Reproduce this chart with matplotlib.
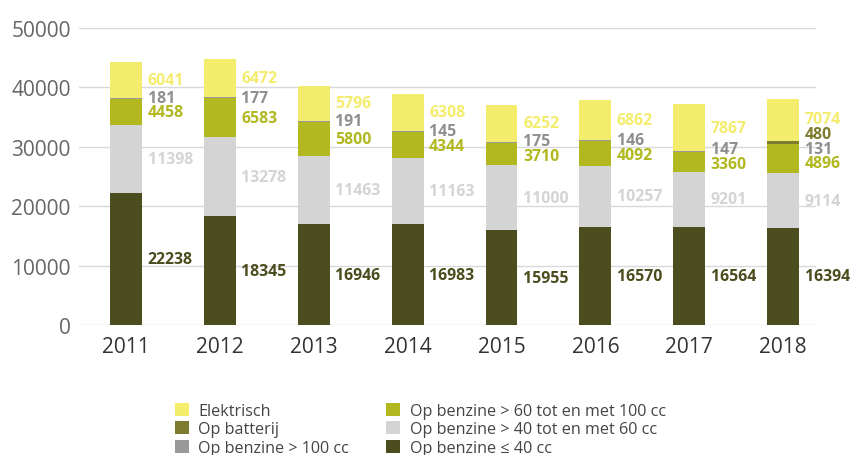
import matplotlib
matplotlib.use("Agg")
import matplotlib.pyplot as plt
from matplotlib.patches import Patch

plt.rcParams['font.family'] = ['Open Sans', 'DejaVu Sans']

years = ["2011", "2012", "2013", "2014", "2015", "2016", "2017", "2018"]
benz_le40 = [22238, 18345, 16946, 16983, 15955, 16570, 16564, 16394]
benz_40_60 = [11398, 13278, 11463, 11163, 11000, 10257, 9201, 9114]
benz_60_100 = [4458, 6583, 5800, 4344, 3710, 4092, 3360, 4896]
benz_gt100 = [181, 177, 191, 145, 175, 146, 147, 131]
batterij = [0, 0, 0, 0, 0, 0, 0, 480]
elektrisch = [6041, 6472, 5796, 6308, 6252, 6862, 7867, 7074]

series = [
    ("Op benzine ≤ 40 cc", benz_le40, "#4b4d1e", "#4b4d1e"),
    ("Op benzine > 40 tot en met 60 cc", benz_40_60, "#d4d4d5", "#d4d4d5"),
    ("Op benzine > 60 tot en met 100 cc", benz_60_100, "#b2b81f", "#b2b81f"),
    ("Op benzine > 100 cc", benz_gt100, "#999999", "#8f8f8f"),
    ("Op batterij", batterij, "#7d7b2e", "#7d7b2e"),
    ("Elektrisch", elektrisch, "#f4ec6c", "#f4ec6c"),
]

fig = plt.figure(figsize=(8.5, 4.56), dpi=100)
ax = fig.add_axes([79/850, 1-326/456, 737/850, 297/456])

x = list(range(len(years)))
bw = 0.34
bottoms = [0]*len(years)
label_info = [[] for _ in years]
for name, vals, col, tcol in series:
    ax.bar(x, vals, bw, bottom=bottoms, color=col, zorder=3, linewidth=0)
    for i, v in enumerate(vals):
        if v > 0:
            label_info[i].append([bottoms[i] + v/2, v, tcol])
    bottoms = [b + v for b, v in zip(bottoms, vals)]

gap = 2500
for i, labs in enumerate(label_info):
    ys = [l[0] for l in labs]
    for _ in range(300):
        moved = False
        for k in range(1, len(ys)):
            d = ys[k] - ys[k-1]
            if d < gap - 1:
                shift = (gap - d)/2
                ys[k] += shift
                ys[k-1] -= shift
                moved = True
        if not moved:
            break
    for (yc, v, tcol), yy in zip(labs, ys):
        ax.text(i + bw/2 + 0.06, yy, str(v), color=tcol, fontsize=11.4,
                fontweight='bold', va='center', ha='left', zorder=4)

ax.set_xlim(-0.5, 7.35)
ax.set_ylim(0, 50000)
ax.set_yticks([0, 10000, 20000, 30000, 40000, 50000])
ax.yaxis.grid(True, color="#d9d9d9", linewidth=1, zorder=0)
ax.set_axisbelow(True)
for s in ax.spines.values():
    s.set_visible(False)
ax.set_xticks(x)
ax.set_xticklabels(years)
ax.tick_params(axis='both', length=0)
ax.tick_params(axis='y', labelsize=15, labelcolor="#666666", pad=6)
ax.tick_params(axis='x', labelsize=15, labelcolor="#333333", pad=8)

leg_order = [5, 4, 3, 2, 1, 0]
handles = [Patch(facecolor=series[k][2], edgecolor='none') for k in leg_order]
labels = [series[k][0] for k in leg_order]
fig.legend(handles, labels, ncol=2, loc='upper left',
           bbox_to_anchor=(167/850, 1-396/456), frameon=False,
           fontsize=11.6, labelcolor="#444444", handlelength=0.85, handleheight=0.85,
           handletextpad=0.6, columnspacing=2.3, labelspacing=0.15, borderpad=0)

fig.savefig("out.png", dpi=100)
